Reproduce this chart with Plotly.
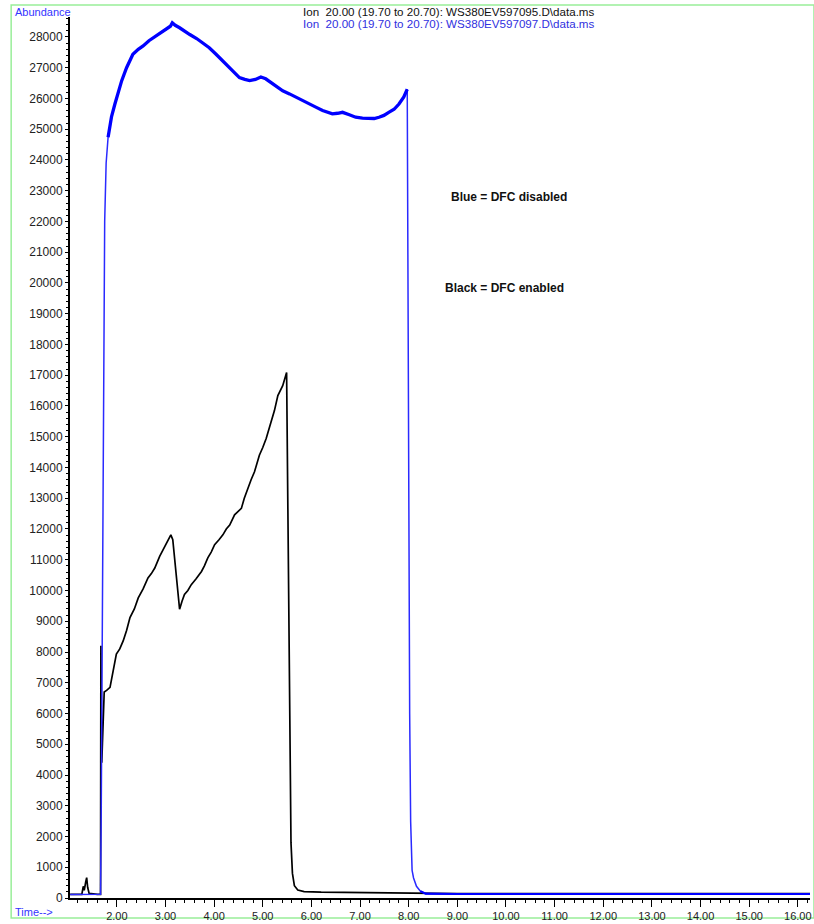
import plotly.graph_objects as go

# Ion 20.00 extracted chromatograms (time in minutes, abundance counts)
blue_time = [1.04, 1.30, 1.50, 1.665, 1.68, 1.70, 1.72, 1.75, 1.78, 1.82, 1.89, 1.96,
             2.10, 2.20, 2.33, 2.44, 2.54, 2.66, 2.81, 2.92, 3.02, 3.10, 3.14, 3.20,
             3.29, 3.40, 3.50, 3.64, 3.77, 3.90, 4.04, 4.18, 4.32, 4.42, 4.52, 4.63,
             4.73, 4.85, 4.96, 5.06, 5.17, 5.29, 5.41, 5.55, 5.68, 5.82, 5.95, 6.09,
             6.23, 6.33, 6.43, 6.54, 6.64, 6.78, 6.91, 7.05, 7.18, 7.29, 7.39, 7.49,
             7.59, 7.70, 7.80, 7.90, 7.97, 7.98, 8.00, 8.02, 8.04, 8.07, 8.10, 8.16,
             8.24, 8.35, 9.00, 10.00, 11.00, 12.00, 13.00, 14.00, 15.00, 16.25]
blue_abund = [110, 110, 110, 120, 3000, 9000, 16000, 22000, 23900, 24740, 25400, 25820,
              26580, 27000, 27440, 27600, 27710, 27880, 28030, 28150, 28250, 28350, 28460, 28380,
              28300, 28200, 28080, 27950, 27810, 27650, 27440, 27220, 27000, 26840, 26680, 26620,
              26580, 26620, 26700, 26640, 26520, 26380, 26250, 26150, 26040, 25930, 25820, 25720,
              25610, 25560, 25500, 25520, 25550, 25470, 25390, 25360, 25340, 25350, 25390, 25450,
              25550, 25650, 25820, 26050, 26300, 21000, 12000, 6000, 2500, 900, 650, 380,
              220, 140, 130, 130, 130, 130, 130, 130, 130, 130]

black_time = [1.04, 1.28, 1.31, 1.33, 1.36, 1.38, 1.40, 1.43, 1.60, 1.665, 1.672, 1.69,
              1.74, 1.79, 1.86, 1.93, 1.99, 2.06, 2.13, 2.20, 2.27, 2.36, 2.44, 2.54,
              2.64, 2.71, 2.78, 2.88, 2.98, 3.05, 3.11, 3.15, 3.22, 3.29, 3.34, 3.39,
              3.46, 3.53, 3.63, 3.74, 3.80, 3.87, 3.94, 4.01, 4.10, 4.18, 4.25, 4.32,
              4.42, 4.49, 4.56, 4.62, 4.69, 4.76, 4.83, 4.93, 5.00, 5.07, 5.17, 5.24,
              5.31, 5.41, 5.49, 5.52, 5.55, 5.58, 5.61, 5.65, 5.72, 5.85, 6.20, 6.80,
              7.50, 8.30, 9.00, 16.25]
black_abund = [120, 120, 380, 250, 520, 660, 350, 150, 120, 120, 8200, 4400,
               6700, 6750, 6850, 7400, 7930, 8100, 8360, 8700, 9120, 9400, 9760, 10050,
               10410, 10550, 10730, 11110, 11430, 11600, 11810, 11650, 10500, 9390, 9650, 9870,
               10000, 10190, 10380, 10620, 10800, 11060, 11250, 11490, 11650, 11810, 12000, 12130,
               12460, 12550, 12670, 13000, 13320, 13600, 13860, 14400, 14650, 14940, 15480, 15850,
               16340, 16660, 17090, 12000, 5000, 1800, 800, 400, 260, 210, 190, 175,
               165, 150, 140, 140]

x_major = [2, 3, 4, 5, 6, 7, 8, 9, 10, 11, 12, 13, 14, 15, 16]
x_labels = [f"{v:.2f}" for v in x_major]
y_major = list(range(0, 29000, 1000))
y_labels = [str(v) for v in y_major]

W, H = 814, 924
L, R, T, B = 70, 2, 17, 22
PW, PH = W - L - R, H - T - B


def px(x, y):
    """Convert page pixel position to paper coordinates."""
    return (x - L) / PW, (H - B - y) / PH


FONT = "Liberation Sans, Arial, sans-serif"

# noisy plateau of the blue trace renders as a thick band, steep edges stay thin
plateau = slice(blue_time.index(1.82), blue_time.index(7.97) + 1)
tail = slice(blue_time.index(8.24), len(blue_time))

fig = go.Figure()
fig.add_trace(go.Scatter(x=black_time, y=black_abund, mode="lines",
                         line=dict(color="#000000", width=1.7), showlegend=False))
fig.add_trace(go.Scatter(x=blue_time, y=blue_abund, mode="lines",
                         line=dict(color="#2a2aff", width=1.5), showlegend=False))
fig.add_trace(go.Scatter(x=blue_time[plateau], y=blue_abund[plateau], mode="lines",
                         line=dict(color="#0000ff", width=3.3), showlegend=False))
fig.add_trace(go.Scatter(x=blue_time[tail], y=blue_abund[tail], mode="lines",
                         line=dict(color="#0000ff", width=2.2), showlegend=False))

fig.update_xaxes(range=[1.037, 16.25], tickvals=x_major, ticktext=x_labels,
                 showgrid=False, zeroline=False, showline=True, linecolor="black",
                 linewidth=2, ticks="outside", ticklen=7, tickcolor="black",
                 tickfont=dict(family=FONT, size=11, color="#222"),
                 minor=dict(dtick=0.2, ticks="outside", ticklen=3, tickcolor="black"))
fig.update_yaxes(range=[0, 28650], tickvals=y_major, ticktext=y_labels,
                 showgrid=False, zeroline=False, showline=True, linecolor="black",
                 linewidth=2, ticks="outside", ticklen=3, tickcolor="black",
                 tickfont=dict(family=FONT, size=12, color="#222"),
                 minor=dict(dtick=200, ticks="outside", ticklen=2, tickcolor="black"))

# light green frame around the whole chart
x0, y0 = px(11, 922)
x1, y1 = px(816, 5)
fig.add_shape(type="rect", xref="paper", yref="paper", x0=x0, y0=y0, x1=x1, y1=y1,
              line=dict(color="#99ee99", width=1.5), layer="below")

texts = [
    ("Abundance", 13, 12, "#3333ff", False, 11),
    ("Time-->", 13, 916, "#3333ff", False, 11),
    ("Ion  20.00 (19.70 to 20.70): WS380EV597095.D\\data.ms", 302, 11, "#111111", False, 11.6),
    ("Ion  20.00 (19.70 to 20.70): WS380EV597097.D\\data.ms", 302, 24, "#3030e0", False, 11.6),
    ("Blue = DFC disabled", 450, 198, "#111111", True, 12),
    ("Black = DFC enabled", 444, 289, "#111111", True, 12),
]
for txt, x, y, color, bold, size in texts:
    ax, ay = px(x, y)
    fig.add_annotation(text=f"<b>{txt}</b>" if bold else txt, x=ax, y=ay,
                       xref="paper", yref="paper", xanchor="left", yanchor="middle",
                       showarrow=False,
                       font=dict(family=FONT, size=size, color=color))

fig.update_layout(width=W, height=H, margin=dict(l=L, r=R, t=T, b=B),
                  plot_bgcolor="white", paper_bgcolor="white")

fig.write_html("out.html")
